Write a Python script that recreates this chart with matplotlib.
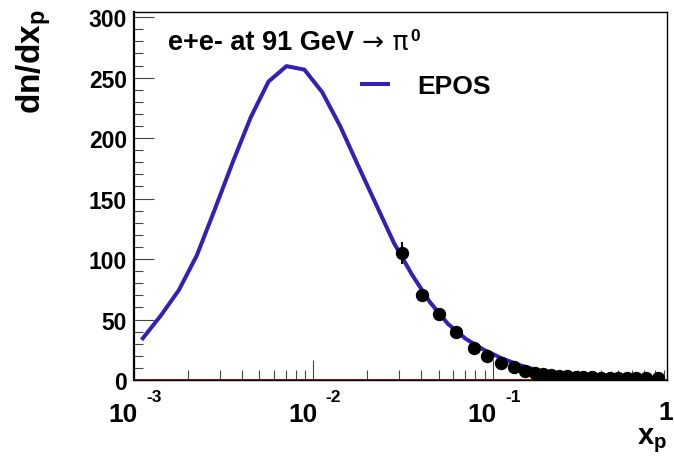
import matplotlib
matplotlib.use("Agg")
import matplotlib.pyplot as plt
import numpy as np

plt.rcParams["font.family"] = ["Liberation Sans", "DejaVu Sans"]
plt.rcParams["font.weight"] = "bold"

# EPOS curve (x_p, dn/dx_p)
epos_x = [0.00112, 0.00141, 0.00178, 0.00224, 0.00282, 0.00355, 0.00447, 0.00562,
          0.00708, 0.00891, 0.0112, 0.0141, 0.0178, 0.0224, 0.0282, 0.0355, 0.0447,
          0.0562, 0.0708, 0.0891, 0.112, 0.141, 0.178, 0.224, 0.282, 0.355, 0.447,
          0.562, 0.708, 0.891]
epos_y = [34.5, 53.2, 74.4, 103, 141, 180, 217, 246.7, 259.5, 256.6, 238, 210, 177,
          145, 113, 87, 64.3, 46.5, 34, 25, 18, 12.3, 8.0, 5.0, 3.0, 1.8, 1.0, 0.55,
          0.3, 0.1]

# data points
data_x = [0.0313, 0.0402, 0.0505, 0.0628, 0.0782, 0.0929, 0.111, 0.132, 0.152, 0.171,
          0.19, 0.21, 0.235, 0.26, 0.29, 0.32, 0.36, 0.40, 0.45, 0.50, 0.56, 0.63,
          0.72, 0.84]
data_y = [104.8, 70.1, 54.5, 39.3, 26.7, 20.1, 14.0, 10.4, 7.7, 5.8, 4.8, 4.0, 3.4,
          3.0, 2.7, 2.4, 2.2, 2.0, 1.8, 1.7, 1.6, 1.5, 1.5, 1.8]
data_err = [9, 2.5, 2, 1.5, 1, 0.8, 0.6, 0.5, 0.4, 0.3, 0.3, 0.2, 0.2, 0.2, 0.2, 0.1,
            0.1, 0.1, 0.1, 0.1, 0.1, 0.1, 0.1, 0.1]

xtick_pos = [1e-3, 1e-2, 1e-1]
xtick_exp = ["-3", "-2", "-1"]
ytick_pos = [0, 50, 100, 150, 200, 250, 300]

BLUE = "#3420b4"
PX = 0.72  # points per pixel at dpi 100

fig = plt.figure(figsize=(6.74, 4.64), dpi=100)
ax = fig.add_axes([134 / 674, 83 / 464, 533 / 674, 367.7 / 464])

ax.plot(epos_x, epos_y, color=BLUE, lw=2.9, label="EPOS", zorder=2)
ax.axhline(0, color="#7a0a0a", lw=1.3, zorder=3)
ax.errorbar(data_x, data_y, yerr=data_err, fmt="o", color="black", ms=8.6,
            elinewidth=1.5, capsize=0, zorder=4)

ax.set_xscale("log")
ax.set_xlim(1e-3, 0.937)
ax.set_ylim(0, 304)

for s in ax.spines.values():
    s.set_linewidth(1.0)
ax.spines["left"].set_linewidth(1.6)

ax.set_yticks(ytick_pos)
ax.set_yticks(np.arange(0, 301, 10), minor=True)
ax.set_yticklabels([str(v) for v in ytick_pos], fontsize=16.5, fontweight="bold")
ax.tick_params(axis="y", which="major", direction="in", length=20 * PX, width=0.8,
               pad=5, color="#444444")
ax.tick_params(axis="y", which="minor", direction="in", length=9 * PX, width=0.8,
               color="#444444")
ax.xaxis.set_major_locator(matplotlib.ticker.LogLocator(base=10, numticks=10))
ax.xaxis.set_minor_locator(matplotlib.ticker.LogLocator(base=10, subs=np.arange(2, 10),
                                                        numticks=20))
ax.tick_params(axis="x", which="major", direction="in", length=20 * PX, width=0.8,
               color="#444444", labelbottom=False)
ax.tick_params(axis="x", which="minor", direction="in", length=10 * PX, width=0.8,
               color="#444444", labelbottom=False)

# ROOT-style x tick labels: "10" with raised exponent
for xv, ex in zip(xtick_pos, xtick_exp):
    ax.annotate("10", xy=(xv, 0), xycoords=("data", "axes fraction"),
                xytext=(4 * PX, -40.7 * PX), textcoords="offset points",
                ha="right", va="baseline", fontsize=19, fontweight="bold",
                annotation_clip=False)
    ax.annotate(ex, xy=(xv, 0), xycoords=("data", "axes fraction"),
                xytext=(12.5 * PX, -20.7 * PX), textcoords="offset points",
                ha="left", va="baseline", fontsize=12.5, fontweight="bold",
                annotation_clip=False)
ax.annotate("1", xy=(1.0, 0), xycoords=("data", "axes fraction"),
            xytext=(1 * PX, -39.5 * PX), textcoords="offset points",
            ha="right", va="baseline", fontsize=19, fontweight="bold",
            annotation_clip=False)

# axis titles
fig.text(14 / 674, 1 - 9 / 464, r"dn/dx$_\mathregular{p}$", rotation=90,
         ha="left", va="top", fontsize=24, fontweight="bold")
ax.annotate(r"x$_\mathregular{p}$", xy=(1, 0), xycoords="axes fraction",
            xytext=(0, -63 * PX), textcoords="offset points", ha="right",
            va="baseline", fontsize=21, fontweight="bold", annotation_clip=False)

# header text
t1 = ax.text((168 - 134) / 533, (381 - 50) / 367.7,
             "e+e- at 91 GeV", transform=ax.transAxes, ha="left", va="baseline",
             fontsize=19.5, fontweight="bold")
t2 = ax.annotate("\u2192 \u03c0", xy=(1, 0), xycoords=t1, xytext=(6, 0),
                 textcoords="offset points", ha="left", va="bottom",
                 fontsize=19, fontweight="normal", family="DejaVu Sans")
ax.annotate("0", xy=(1, 1), xycoords=t2, xytext=(1, -10),
            textcoords="offset points", ha="left", va="bottom", fontsize=12.5,
            fontweight="bold")

leg = ax.legend(loc="center left", bbox_to_anchor=((362 - 134) / 533, (381 - 87) / 367.7),
                frameon=False, handlelength=1.0, handletextpad=1.1,
                borderpad=0, borderaxespad=0, prop={"weight": "bold", "size": 19})

fig.savefig("out.png", dpi=100)
